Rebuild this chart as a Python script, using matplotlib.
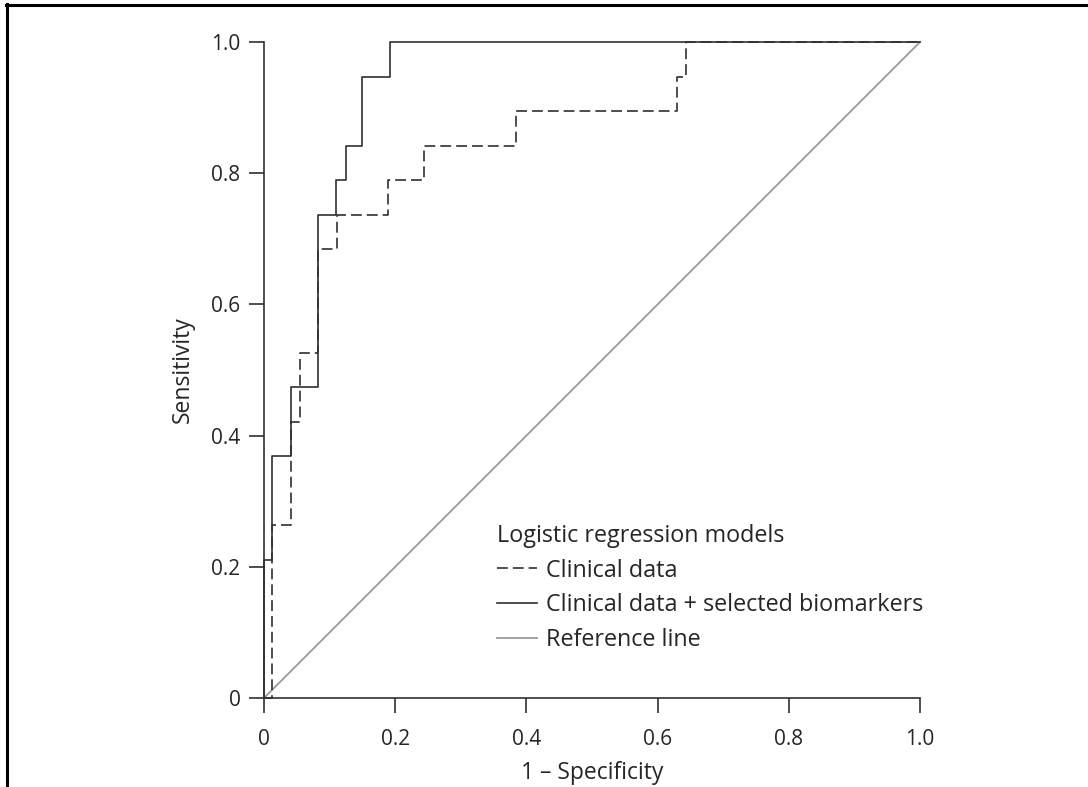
import matplotlib
matplotlib.use("Agg")
import matplotlib.pyplot as plt
from matplotlib.lines import Line2D

plt.rcParams['font.family'] = ['Open Sans', 'DejaVu Sans']

# ---- data ----
clin_fpr = [0, 0.0122, 0.0407, 0.0549, 0.0828, 0.111, 0.1895, 0.2444, 0.384, 0.629, 0.643, 1.0]
clin_tpr = [0, 0.2632, 0.4211, 0.5263, 0.6842, 0.7368, 0.7895, 0.8421, 0.8947, 0.9474, 1.0, 1.0]

bio_fpr = [0, 0, 0.0122, 0.0407, 0.0818, 0.1098, 0.1245, 0.149, 0.1926, 1.0]
bio_tpr = [0, 0.2105, 0.3684, 0.4737, 0.7368, 0.7895, 0.8421, 0.9474, 1.0, 1.0]

ref_x = [0, 1]
ref_y = [0, 1]

ticks = [0, 0.2, 0.4, 0.6, 0.8, 1.0]
tick_labels = ['0', '0.2', '0.4', '0.6', '0.8', '1.0']

legend_title = 'Logistic regression models'
labels = ['Clinical data', 'Clinical data + selected biomarkers', 'Reference line']

# ---- figure ----
W, H = 1088, 787
fig = plt.figure(figsize=(W / 100, H / 100), dpi=100)
ax = fig.add_axes([264 / W, 1 - 698 / H, 656 / W, 656 / H])

line_col = '#303030'
text_col = '#262626'
ref_col = '#9a9a9a'

ax.plot(ref_x, ref_y, color=ref_col, lw=1.3, clip_on=False, zorder=1)
ax.plot(clin_fpr, clin_tpr, drawstyle='steps-post', color=line_col, lw=1.2,
        linestyle=(0, (6.5, 3)), clip_on=False, zorder=2)
ax.plot(bio_fpr, bio_tpr, drawstyle='steps-post', color=line_col, lw=1.2,
        clip_on=False, zorder=3)

ax.set_xlim(0, 1)
ax.set_ylim(0, 1)
ax.set_xticks(ticks)
ax.set_xticklabels(tick_labels)
ax.set_yticks(ticks)
ax.set_yticklabels(tick_labels)

for s in ['top', 'right']:
    ax.spines[s].set_visible(False)
for s in ['left', 'bottom']:
    ax.spines[s].set_color(line_col)
    ax.spines[s].set_linewidth(1.2)

ax.tick_params(axis='both', direction='out', length=11, width=1.2, color=line_col,
               labelsize=15, labelcolor=text_col)
ax.tick_params(axis='x', pad=11)
ax.tick_params(axis='y', pad=6)

ax.set_xlabel('1 – Specificity', fontsize=16.5, color=text_col, labelpad=8)
ax.set_ylabel('Sensitivity', fontsize=16.5, color=text_col, labelpad=12)

fs = 16.8
handles = [
    Line2D([], [], color=line_col, lw=1.2, linestyle=(0, (6.5, 3))),
    Line2D([], [], color=line_col, lw=1.2),
    Line2D([], [], color=ref_col, lw=1.3),
]
leg = ax.legend(handles, labels, title=legend_title, loc='lower left',
                bbox_to_anchor=((497 - 264) / 656, (698 - 652) / 656),
                frameon=False, fontsize=fs, title_fontsize=fs,
                handlelength=1.72, handletextpad=0.39, labelspacing=0.46,
                borderpad=0, borderaxespad=0, alignment='left')
for t in leg.get_texts():
    t.set_color(text_col)
leg.get_title().set_color(text_col)

# image frame: top and left border lines
fig.add_artist(Line2D([6 / W, 1], [1 - 5 / H, 1 - 5 / H], color='black', lw=2.2,
                      transform=fig.transFigure))
fig.add_artist(Line2D([6.5 / W, 6.5 / W], [0, 1 - 4 / H], color='black', lw=2.2,
                      transform=fig.transFigure))

fig.savefig('out.png', dpi=100)
